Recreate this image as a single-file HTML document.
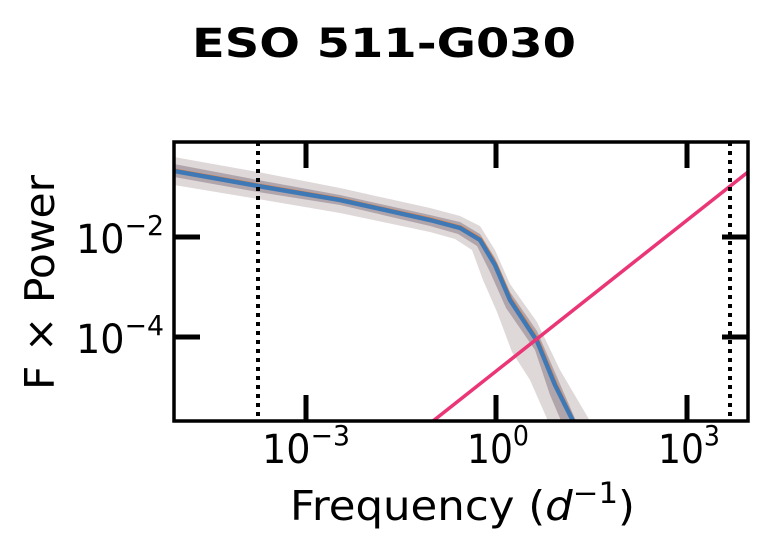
<!DOCTYPE html>
<html><head><meta charset="utf-8"><style>
html,body{margin:0;padding:0;background:#fff;}
svg{display:block;font-family:"DejaVu Sans","Liberation Sans",sans-serif;}
</style></head><body>
<svg width="768" height="553" viewBox="0 0 768 553" xmlns="http://www.w3.org/2000/svg">
<defs><clipPath id="c"><rect x="174" y="142" width="574" height="279"/></clipPath></defs>
<text x="384" y="57" text-anchor="middle" font-size="40" font-weight="bold" textLength="384" lengthAdjust="spacingAndGlyphs">ESO 511-G030</text>
<g clip-path="url(#c)">
<path d="M174,157 L258,172 L340,188 L430,208 L460,216 L480,226 L495,250 L510,284 L537,322 L560,370 L590,421 L605,440 L560,440 L548,421 L530,380 L512,352 L497,312 L483,280 L472,250 L455,239 L430,232 L340,213 L258,199 L174,185 Z" fill="#b8a8a8" fill-opacity="0.45"/>
<path d="M174,164 L258,180 L340,195 L430,215 L460,222 L480,234 L495,258 L510,292 L537,331 L557,377 L580,430 L565,430 L550,395 L535,350 L506,308 L490,272 L477,246 L458,234 L430,226 L340,205 L258,192 L174,177 Z" fill="#7a6878" fill-opacity="0.45"/>
<polyline points="174,170 258,185 340,199 430,219 460,227 480,239 495,264 510,299 537,340 555,384 573,421" fill="none" stroke="#f28030" stroke-width="3" transform="translate(1,0)"/>
<polyline points="174,171 258,186 340,200 430,220 460,228 480,240 495,265 510,300 537,341 555,385 573,421" fill="none" stroke="#3f79b5" stroke-width="4.5"/>
<line x1="433" y1="421" x2="748" y2="172" stroke="#ea3676" stroke-width="3.5"/>
</g>
<line x1="258" y1="142" x2="258" y2="421" stroke="#000" stroke-width="4" stroke-dasharray="4,5"/>
<line x1="730" y1="142" x2="730" y2="421" stroke="#000" stroke-width="4" stroke-dasharray="4,5"/>
<g stroke="#000" stroke-width="5">
<line x1="306" y1="142" x2="306" y2="168"/><line x1="496" y1="142" x2="496" y2="168"/><line x1="687" y1="142" x2="687" y2="168"/>
<line x1="306" y1="421" x2="306" y2="395"/><line x1="496" y1="421" x2="496" y2="395"/><line x1="687" y1="421" x2="687" y2="395"/>
<line x1="174" y1="237" x2="200" y2="237"/><line x1="174" y1="337" x2="200" y2="337"/>
<line x1="748" y1="237" x2="722" y2="237"/><line x1="748" y1="337" x2="722" y2="337"/>
</g>
<rect x="174" y="142" width="574" height="279" fill="none" stroke="#000" stroke-width="3.5"/>
<g font-size="40">
<text x="76" y="253" textLength="88" lengthAdjust="spacingAndGlyphs">10<tspan font-size="28" dy="-18">−2</tspan></text>
<text x="76" y="353" textLength="88" lengthAdjust="spacingAndGlyphs">10<tspan font-size="28" dy="-18">−4</tspan></text>
<text x="262" y="463" textLength="88" lengthAdjust="spacingAndGlyphs">10<tspan font-size="28" dy="-18">−3</tspan></text>
<text x="467" y="463" textLength="62" lengthAdjust="spacingAndGlyphs">10<tspan font-size="28" dy="-18">0</tspan></text>
<text x="658" y="463" textLength="62" lengthAdjust="spacingAndGlyphs">10<tspan font-size="28" dy="-18">3</tspan></text>
</g>
<text x="290" y="520" font-size="41" textLength="345" lengthAdjust="spacingAndGlyphs">Frequency (<tspan font-style="italic">d</tspan><tspan font-size="29" dy="-17">−1</tspan><tspan dy="17">)</tspan></text>
<text transform="translate(54,390) rotate(-90)" font-size="41" textLength="215" lengthAdjust="spacingAndGlyphs">F × Power</text>
</svg>
</body></html>
